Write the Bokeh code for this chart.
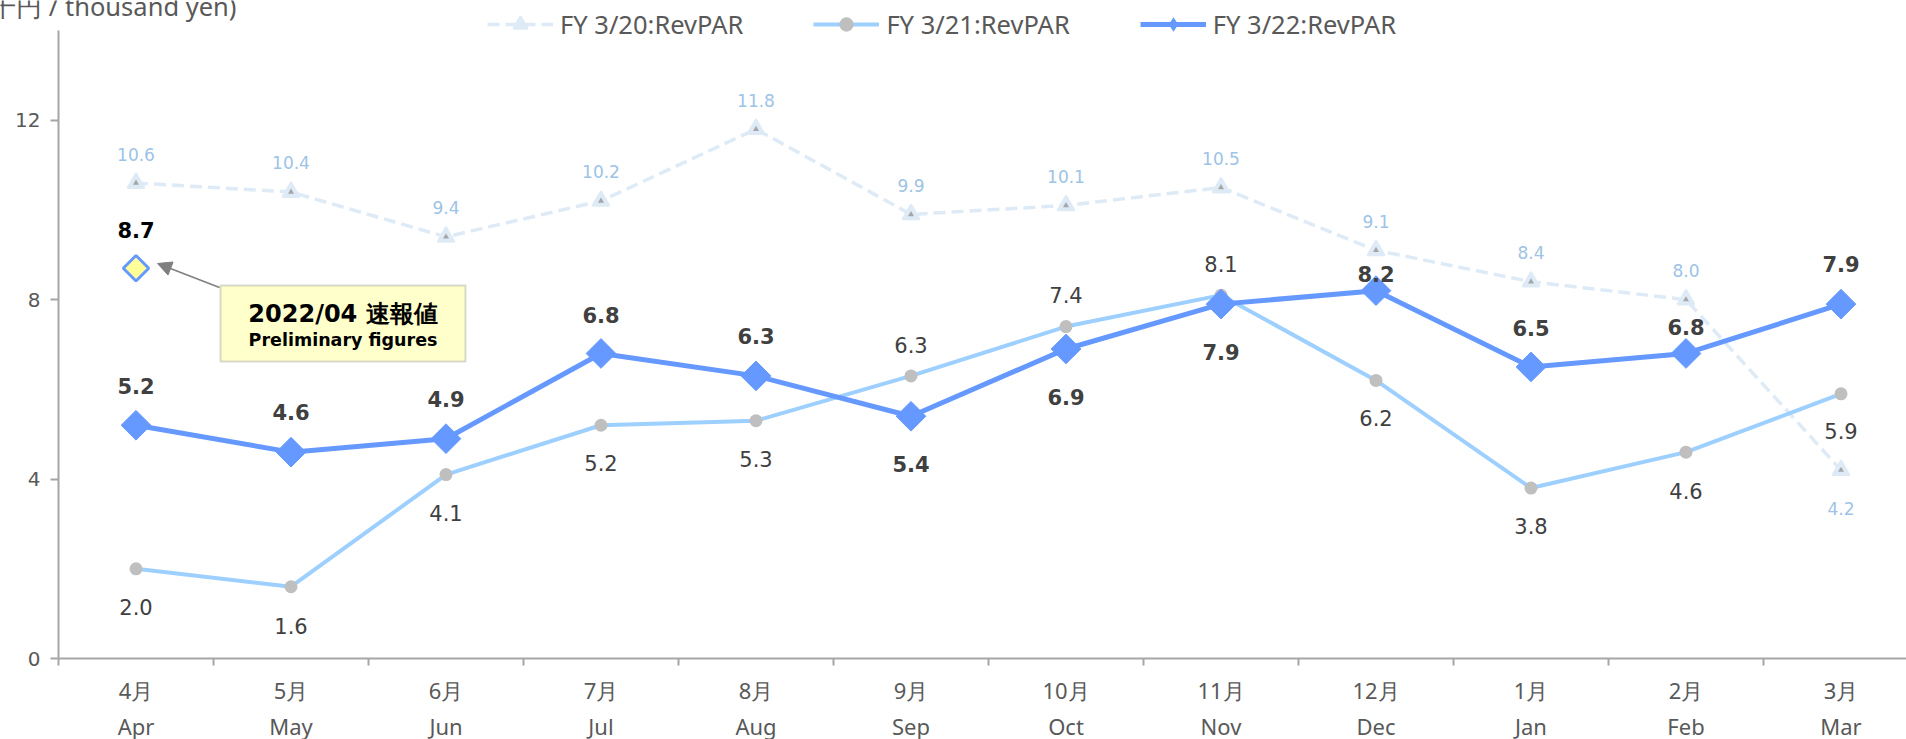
from bokeh.plotting import figure
from bokeh.models import (Range1d, FixedTicker, Legend, LegendItem, BoxAnnotation,
                          Label, Arrow, NormalHead, ColumnDataSource)
from bokeh.core.properties import value
from bokeh.embed import file_html
from bokeh.resources import INLINE

# ---------------- data ----------------
months_jp = ["4月", "5月", "6月", "7月", "8月", "9月", "10月", "11月", "12月", "1月", "2月", "3月"]
months_en = ["Apr", "May", "Jun", "Jul", "Aug", "Sep", "Oct", "Nov", "Dec", "Jan", "Feb", "Mar"]
fy20 = [10.6, 10.4, 9.4, 10.2, 11.8, 9.9, 10.1, 10.5, 9.1, 8.4, 8.0, 4.2]
fy21 = [2.0, 1.6, 4.1, 5.2, 5.3, 6.3, 7.4, 8.1, 6.2, 3.8, 4.6, 5.9]
fy22 = [5.2, 4.6, 4.9, 6.8, 6.3, 5.4, 6.9, 7.9, 8.2, 6.5, 6.8, 7.9]
prelim_month = "Apr"
prelim_value = 8.7
series_names = ["FY 3/20:RevPAR", "FY 3/21:RevPAR", "FY 3/22:RevPAR"]
y_ticks = [0, 4, 8, 12]
y_max = 14
unit_title = "(千円 / thousand yen)"
callout_title = "2022/04 速報値"
callout_sub = "Preliminary figures"

# ---------------- layout / style ----------------
# label offsets in screen pixels (positive = downwards)
off20 = [-29, -29, -29, -29, -29, -29, -29, -29, -29, -29, -29, 38]
off21 = [38, 39, 38, 38, 38, -31, -32, -31, 38, 38, 39, 37]
off22 = [-39, -40, -40, -38, -40, 48, 48, 48, -17, -39, -26, -40]

C20_LINE = "#DEEBF7"
C20_TEXT = "#9DC3E6"
C21_LINE = "#9DCFFF"
C21_MARK = "#BFBFBF"
C22 = "#6699FF"
AXIS = "#A6A6A6"
TXT = "#595959"
LAB = "#404040"
NUM_FONT = "DejaVu Sans"
CAT_FONT = "Noto Sans"

W, H = 1906, 739
X0, Y0, YTOP = 58, 658, 30        # page pixels of the axes origin / top of value axis
PXU = 155.0                       # pixels per category
PYU = (Y0 - YTOP) / y_max         # pixels per value unit

ncat = len(months_en)
xs = [months_en.index(m) + 0.5 for m in months_en]

p = figure(width=W, height=H,
           x_range=Range1d(-X0 / PXU, (W - X0) / PXU),
           y_range=Range1d(-(H - Y0) / PYU, y_max + YTOP / PYU),
           output_backend="svg", toolbar_location=None,
           min_border_left=0, min_border_right=0, min_border_top=0, min_border_bottom=0)
p.outline_line_color = None
p.xgrid.visible = False
p.ygrid.visible = False

# y axis (drawn inside the frame at x = 0)
ya = p.yaxis[0]
ya.fixed_location = 0
ya.bounds = (0, y_max)
ya.ticker = FixedTicker(ticks=y_ticks, minor_ticks=[])
ya.axis_line_color = AXIS
ya.axis_line_width = 2
ya.major_tick_line_color = AXIS
ya.major_tick_line_width = 2
ya.major_tick_out = 8
ya.major_tick_in = 0
ya.minor_tick_line_color = None
ya.major_label_text_font = NUM_FONT
ya.major_label_text_font_size = "20px"
ya.major_label_text_color = TXT
ya.major_label_standoff = 10

# x axis (drawn inside the frame at y = 0), two-line month labels
xa = p.xaxis[0]
xa.fixed_location = 0
xa.bounds = (0, ncat)
xa.ticker = FixedTicker(ticks=xs, minor_ticks=list(range(ncat + 1)))
xa.major_label_overrides = {x: f"{j}\n{e}" for x, j, e in zip(xs, months_jp, months_en)}
xa.axis_line_color = AXIS
xa.axis_line_width = 2
xa.major_tick_line_color = None
xa.major_tick_out = 0
xa.major_tick_in = 0
xa.minor_tick_line_color = AXIS
xa.minor_tick_line_width = 2
xa.minor_tick_out = 7
xa.minor_tick_in = 0
xa.major_label_text_font = CAT_FONT
xa.major_label_text_font_size = "22px"
xa.major_label_text_color = TXT
xa.major_label_text_line_height = 1.2
xa.major_label_standoff = 9

# ---------------- series ----------------
s20 = ColumnDataSource(dict(x=xs, y=fy20, t=[f"{v:.1f}" for v in fy20], o=off20))
s21 = ColumnDataSource(dict(x=xs, y=fy21, t=[f"{v:.1f}" for v in fy21], o=off21))
s22 = ColumnDataSource(dict(x=xs, y=fy22, t=[f"{v:.1f}" for v in fy22], o=off22))

l20 = p.line("x", "y", source=s20, line_color=C20_LINE, line_width=3.5, line_dash="12 6")
m20 = p.scatter("x", "y", source=s20, marker="triangle", size=17, fill_color=C20_LINE,
                line_color=C20_LINE, line_width=2)
m20b = p.scatter("x", "y", source=s20, marker="triangle", size=6, fill_color="#A6A6A6",
                 line_color=None)

l21 = p.line("x", "y", source=s21, line_color=C21_LINE, line_width=4)
m21 = p.scatter("x", "y", source=s21, marker="circle", size=13, fill_color=C21_MARK,
                line_color=None)

l22 = p.line("x", "y", source=s22, line_color=C22, line_width=5)
m22 = p.scatter("x", "y", source=s22, marker="square", angle=0.785398, size=21,
                fill_color=C22, line_color=C22)
# legend swatch for the diamond marker (zero size in the plot itself)
leg22 = p.scatter("x", "y", source=s22, marker="diamond", size=0, fill_color=C22,
                  line_color=None)

# preliminary point
px = months_en.index(prelim_month) + 0.5
sp = ColumnDataSource(dict(x=[px], y=[prelim_value], t=[f"{prelim_value:.1f}"]))
p.scatter("x", "y", source=sp, marker="square", angle=0.785398, size=18,
          fill_color="#FFFF99", line_color=C22, line_width=3)

# data labels
p.text("x", "y", text="t", source=s20, y_offset="o", text_align="center",
       text_baseline="middle", text_font=value(NUM_FONT), text_font_size="17px",
       text_color=C20_TEXT)
p.text("x", "y", text="t", source=s21, y_offset="o", text_align="center",
       text_baseline="middle", text_font=value(NUM_FONT), text_font_size="21px",
       text_color=LAB)
p.text("x", "y", text="t", source=s22, y_offset="o", text_align="center",
       text_baseline="middle", text_font=value(NUM_FONT), text_font_size="21px",
       text_font_style="bold", text_color=LAB)
p.text("x", "y", text="t", source=sp, y_offset=-38, text_align="center",
       text_baseline="middle", text_font=value(NUM_FONT), text_font_size="21px",
       text_font_style="bold", text_color="#000000")

# ---------------- callout ----------------
def dx(px_page):
    return (px_page - X0) / PXU

def dy(py_page):
    return (Y0 - py_page) / PYU

box_l, box_r, box_t, box_b = dx(220), dx(465), dy(285), dy(361)
p.add_layout(BoxAnnotation(left=box_l, right=box_r, top=box_t, bottom=box_b,
                           fill_color="#FFFFCC", fill_alpha=1.0, line_color="#7F7F7F",
                           line_width=2, level="annotation"))
p.add_layout(Arrow(end=NormalHead(size=14, fill_color="#7F7F7F", line_color="#7F7F7F"),
                   x_start=dx(219), y_start=dy(287), x_end=dx(157), y_end=dy(263),
                   line_color="#7F7F7F", line_width=1.5))
cx = (box_l + box_r) / 2
p.add_layout(Label(x=cx, y=dy(313), text=callout_title, text_align="center",
                   text_baseline="middle", text_font=NUM_FONT, text_font_size="24px",
                   text_font_style="bold", text_color="#000000", level="overlay"))
p.add_layout(Label(x=cx, y=dy(339), text=callout_sub, text_align="center",
                   text_baseline="middle", text_font=NUM_FONT, text_font_size="17.5px",
                   text_font_style="bold", text_color="#000000", level="overlay"))

# unit title (top-left, partially cut off like the original)
p.add_layout(Label(x=dx(236), y=dy(5), text=unit_title,
                   text_align="right", text_baseline="middle", text_font=CAT_FONT,
                   text_font_size="25.5px", text_color=TXT))

# ---------------- legend ----------------
legend = Legend(items=[LegendItem(label=series_names[0], renderers=[l20, m20]),
                       LegendItem(label=series_names[1], renderers=[l21, m21]),
                       LegendItem(label=series_names[2], renderers=[l22, leg22])],
                orientation="horizontal", location=(487, H - 42),
                glyph_width=66, glyph_height=36, label_standoff=7, spacing=70,
                padding=0, margin=0, border_line_color=None, background_fill_alpha=0,
                label_text_font=CAT_FONT, label_text_font_size="25.5px",
                label_text_color=TXT)
p.add_layout(legend)

open("out.html", "w").write(file_html(p, INLINE))
